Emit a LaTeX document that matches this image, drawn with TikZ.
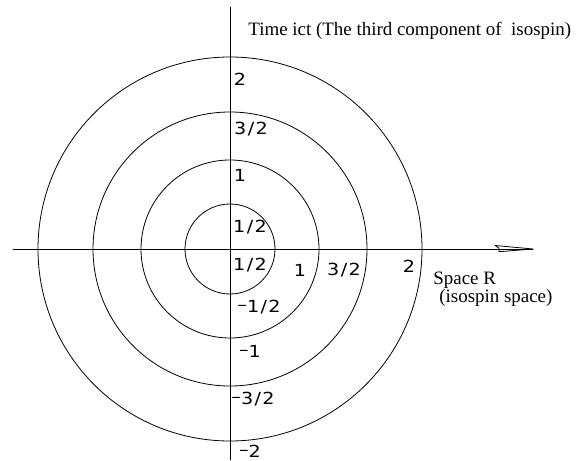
\documentclass[tikz,border=0pt]{standalone}
\usepackage{fontspec}
\setmainfont{Liberation Serif}
\newfontfamily\cadfont[LetterSpace=8,FakeStretch=1.15]{DejaVu Sans}
\newcommand\cadminus{\raisebox{0.12em}{–}}
\tikzset{
  numlabel/.style={font=\cadfont\fontsize{12.5}{13}\selectfont,inner sep=0pt},
  notelabel/.style={font=\fontsize{14.2}{17}\selectfont,inner sep=0pt,anchor=base west}
}

\begin{document}
\begin{tikzpicture}[x=0.75pt,y=0.75pt,line width=0.6pt,line cap=round,line join=round]
  \useasboundingbox (-230,-211) rectangle (347,249);
  \coordinate (O) at (0,0);
  % circles
  \foreach \r in {45,89,137,192} {
    \draw (O) circle[radius=\r];
  }
  % axes
  \coordinate (xl) at (-217,0);
  \coordinate (xr) at (303,0);
  \coordinate (yt) at (0,242);
  \coordinate (yb) at (0,-211);
  \draw (xl) -- (xr);
  \draw (yb) -- (yt);
  \draw (265,3.5) -- (303,0) -- (269,-2.7) -- (269,0.8) -- cycle;
  % values on the time axis
  \node[numlabel] (t4) at (10,170) {2};
  \node[numlabel] (t3) at (21,119.5) {3/2};
  \node[numlabel] (t2) at (10,74) {1};
  \node[numlabel] (t1) at (20,22) {1/2};
  \node[numlabel] (b1) at (20,-16) {1/2};
  \node[numlabel] (b2) at (29,-58) {\cadminus1/2};
  \node[numlabel] (b3) at (20,-102) {\cadminus1};
  \node[numlabel] (b4) at (23,-150) {\cadminus3/2};
  \node[numlabel] (b5) at (20,-202) {\cadminus2};
  % values on the space axis
  \node[numlabel] (s2) at (70,-21) {1};
  \node[numlabel] (s3) at (114,-21) {3/2};
  \node[numlabel] (s4) at (179,-17) {2};
  % axis names
  \node[notelabel] (time) at (18,213) {Time ict (The third component of \ isospin)};
  \node[notelabel] (space) at (203,-35) {Space R};
  \node[notelabel] (iso) at (209,-53) {(isospin space)};
\end{tikzpicture}
\end{document}
